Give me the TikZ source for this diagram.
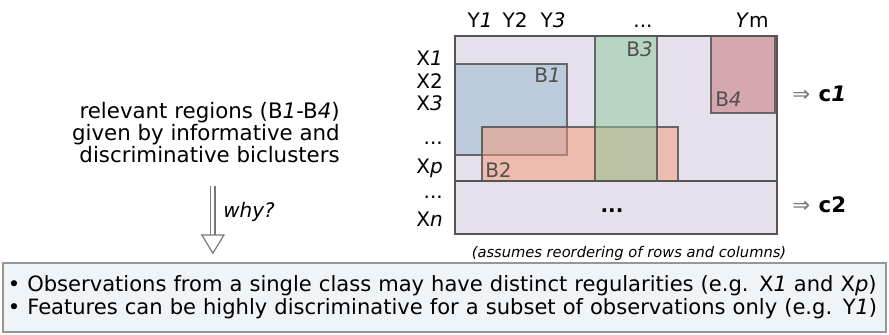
\documentclass[tikz,border=0pt]{standalone}
\usepackage{fontspec}
\setmainfont{DejaVu Sans}
\usepackage{xcolor}
\usetikzlibrary{arrows.meta,positioning,calc}
\definecolor{lavbg}{RGB}{230,224,236}
\definecolor{framegray}{RGB}{85,85,85}
\definecolor{labgray}{RGB}{80,80,80}
\definecolor{bluebc}{RGB}{146,184,204}
\definecolor{greenbc}{RGB}{140,202,156}
\definecolor{redbc}{RGB}{198,112,116}
\definecolor{salmonbc}{RGB}{246,154,116}
\definecolor{notebg}{RGB}{238,244,248}
\definecolor{noteline}{RGB}{150,150,150}
\definecolor{arrgray}{RGB}{120,120,120}
\tikzset{
  datafont/.style={font=\fontsize{15}{16.5}\selectfont},
  rowlab/.style={datafont,anchor=base east,inner sep=0pt},
  collab/.style={datafont,anchor=base,inner sep=0pt},
  bicl/.style={draw=black!70,draw opacity=0.8,line width=1pt,fill opacity=0.5},
  blab/.style={datafont,text=labgray,inner sep=0pt},
  classlab/.style={datafont,anchor=base west,inner sep=0pt},
  whyarr/.style={draw=arrgray,line width=0.9pt,double=white,double distance=2.4pt,
                 -{Triangle[open,length=15pt,width=18pt]}}
}
\begin{document}
\begin{tikzpicture}[x=0.75pt,y=-0.75pt]
  \useasboundingbox (0,0) rectangle (889,335);

  % data matrix
  \fill[lavbg] (455,36) rectangle (777,234);
  \filldraw[bicl,fill=bluebc] (455,64) rectangle (567,155);
  \filldraw[bicl,fill=salmonbc] (482,127) rectangle (678,181);
  \filldraw[bicl,fill=greenbc] (595,36) rectangle (657,181);
  \filldraw[bicl,fill=redbc] (711,36) rectangle (775,113);
  \draw[framegray,line width=1.3pt] (455,36) rectangle (777,234);
  \draw[framegray,line width=1.3pt] (455,181) -- (777,181);

  \node[blab,anchor=base east] (b1) at (561,83) {B\textit{1}};
  \node[blab,anchor=base west] (b2) at (485,177) {B2};
  \node[blab,anchor=base east] (b3) at (653,57) {B\textit{3}};
  \node[blab,anchor=base west] (b4) at (715,107) {B\textit{4}};
  \node[datafont,inner sep=0pt,anchor=base] (rest) at (612,212) {\textbf{...}};

  % column headers
  \node[collab] (y1) at (480,28) {Y\textit{1}};
  \node[collab] (y2) at (515,28) {Y2};
  \node[collab] (y3) at (553,28) {Y\textit{3}};
  \node[collab] (ydots) at (643,28) {...};
  \node[collab] (ym) at (752,28) {\textit{Y}m};

  % row headers
  \node[rowlab] (x1) at (443,66) {X\textit{1}};
  \node[rowlab] (x2) at (443,89) {X2};
  \node[rowlab] (x3) at (443,111) {X\textit{3}};
  \node[rowlab] (xdots) at (443,144) {...};
  \node[rowlab] (xp) at (443,173) {X\textit{p}};
  \node[rowlab] (xdotsb) at (443,198) {...};
  \node[rowlab] (xn) at (443,226) {X\textit{n}};

  % classes
  \node[classlab,font=\fontsize{16}{17}\selectfont] (c1) at (792,102) {\textcolor{arrgray}{⇒}\hspace{0.4em}\textbf{c\textit{1}}};
  \node[classlab,font=\fontsize{16}{17}\selectfont] (c2) at (792,212) {\textcolor{arrgray}{⇒}\hspace{0.4em}\textbf{c2}};

  \node[font=\fontsize{11}{13}\selectfont\itshape,anchor=base,inner sep=0pt] (note) at (629,257)
    {(assumes reordering of rows and columns)};

  % left text and arrow
  \node[font=\fontsize{16}{16.5}\selectfont,align=right,anchor=east,inner sep=0pt] (reg) at (340,133)
    {relevant regions (B\textit{1}-B\textit{4})\\given by informative and\\discriminative biclusters};

  \node[draw=noteline,fill=notebg,line width=1.2pt,minimum width=662pt,minimum height=51.5pt,
        inner xsep=3.5pt,text width=655pt,align=left,
        font=\fontsize{15.8}{17.25}\selectfont] (obs) at (444.5,297.5)
    {• Observations from a single class may have distinct regularities (e.g. X\textit{1} and X\textit{p})\\
     • Features can be highly discriminative for a subset of observations only (e.g. Y\textit{1})};

  \coordinate (whytop) at ($(reg.south)+(7,0)$);
  \draw[whyarr,shorten <=17pt,shorten >=6pt] (whytop) -- (whytop |- obs.north);
  \node[datafont,anchor=base west,inner sep=0pt] (why) at (223,217) {\textit{why?}};
\end{tikzpicture}
\end{document}
